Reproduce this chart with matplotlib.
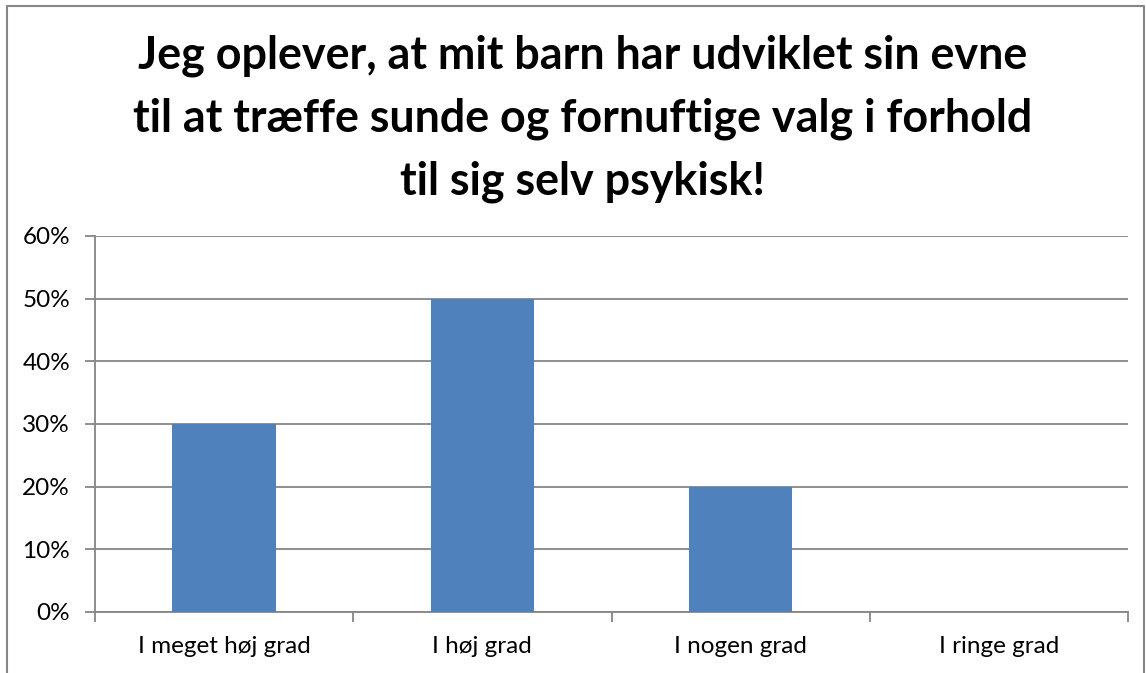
import matplotlib.pyplot as plt
from matplotlib.lines import Line2D
from matplotlib.ticker import FuncFormatter

# data
categories = ['I meget høj grad', 'I høj grad', 'I nogen grad', 'I ringe grad']
values = [0.30, 0.50, 0.20, 0.0]
y_ticks = [0, 0.1, 0.2, 0.3, 0.4, 0.5, 0.6]

title = ('Jeg oplever, at mit barn har udviklet sin evne\n'
         'til at træffe sunde og fornuftige valg i forhold\n'
         'til sig selv psykisk!')

plt.rcParams['font.family'] = ['Lato', 'DejaVu Sans']
grey = '#868686'

fig = plt.figure(figsize=(11.46, 6.73), dpi=100)
ax = fig.add_axes([95/1146, 1 - 612/673, (1128 - 95)/1146, (612 - 236)/673])

x = list(range(len(categories)))
ax.bar(x, values, width=0.4, color='#4F81BD', zorder=3)

ax.set_xlim(-0.5, len(categories) - 0.5)
ax.set_ylim(0, 0.6)
ax.set_yticks(y_ticks)
ax.yaxis.set_major_formatter(FuncFormatter(lambda v, p: f'{v*100:.0f}%'))
ax.grid(axis='y', color=grey, linewidth=1.3, zorder=0)

ax.set_xticks(x)
ax.set_xticklabels(categories, fontsize=17.5)
ax.set_xticks([i - 0.5 for i in range(len(categories) + 1)], minor=True)
ax.tick_params(axis='x', which='major', length=0, pad=17)
ax.tick_params(axis='x', which='minor', length=7, width=1.3, color=grey, direction='out')
ax.tick_params(axis='y', length=7, width=1.3, color=grey, labelsize=17.5, pad=11)

for s in ['top', 'right']:
    ax.spines[s].set_visible(False)
for s in ['left', 'bottom']:
    ax.spines[s].set_color(grey)
    ax.spines[s].set_linewidth(1.3)

fig.text(0.508, 1 - 119/673, title, ha='center', va='center', fontsize=32.3,
         fontweight='bold', linespacing=1.6)

# chart area border (left, top, right)
bx0, bx1, by1 = 7/1146, 1144/1146, 1 - 6/673
fig.add_artist(Line2D([bx0, bx0, bx1, bx1], [0, by1, by1, 0], color=grey,
                      linewidth=1.5, transform=fig.transFigure))

fig.savefig('out.png', dpi=100)
